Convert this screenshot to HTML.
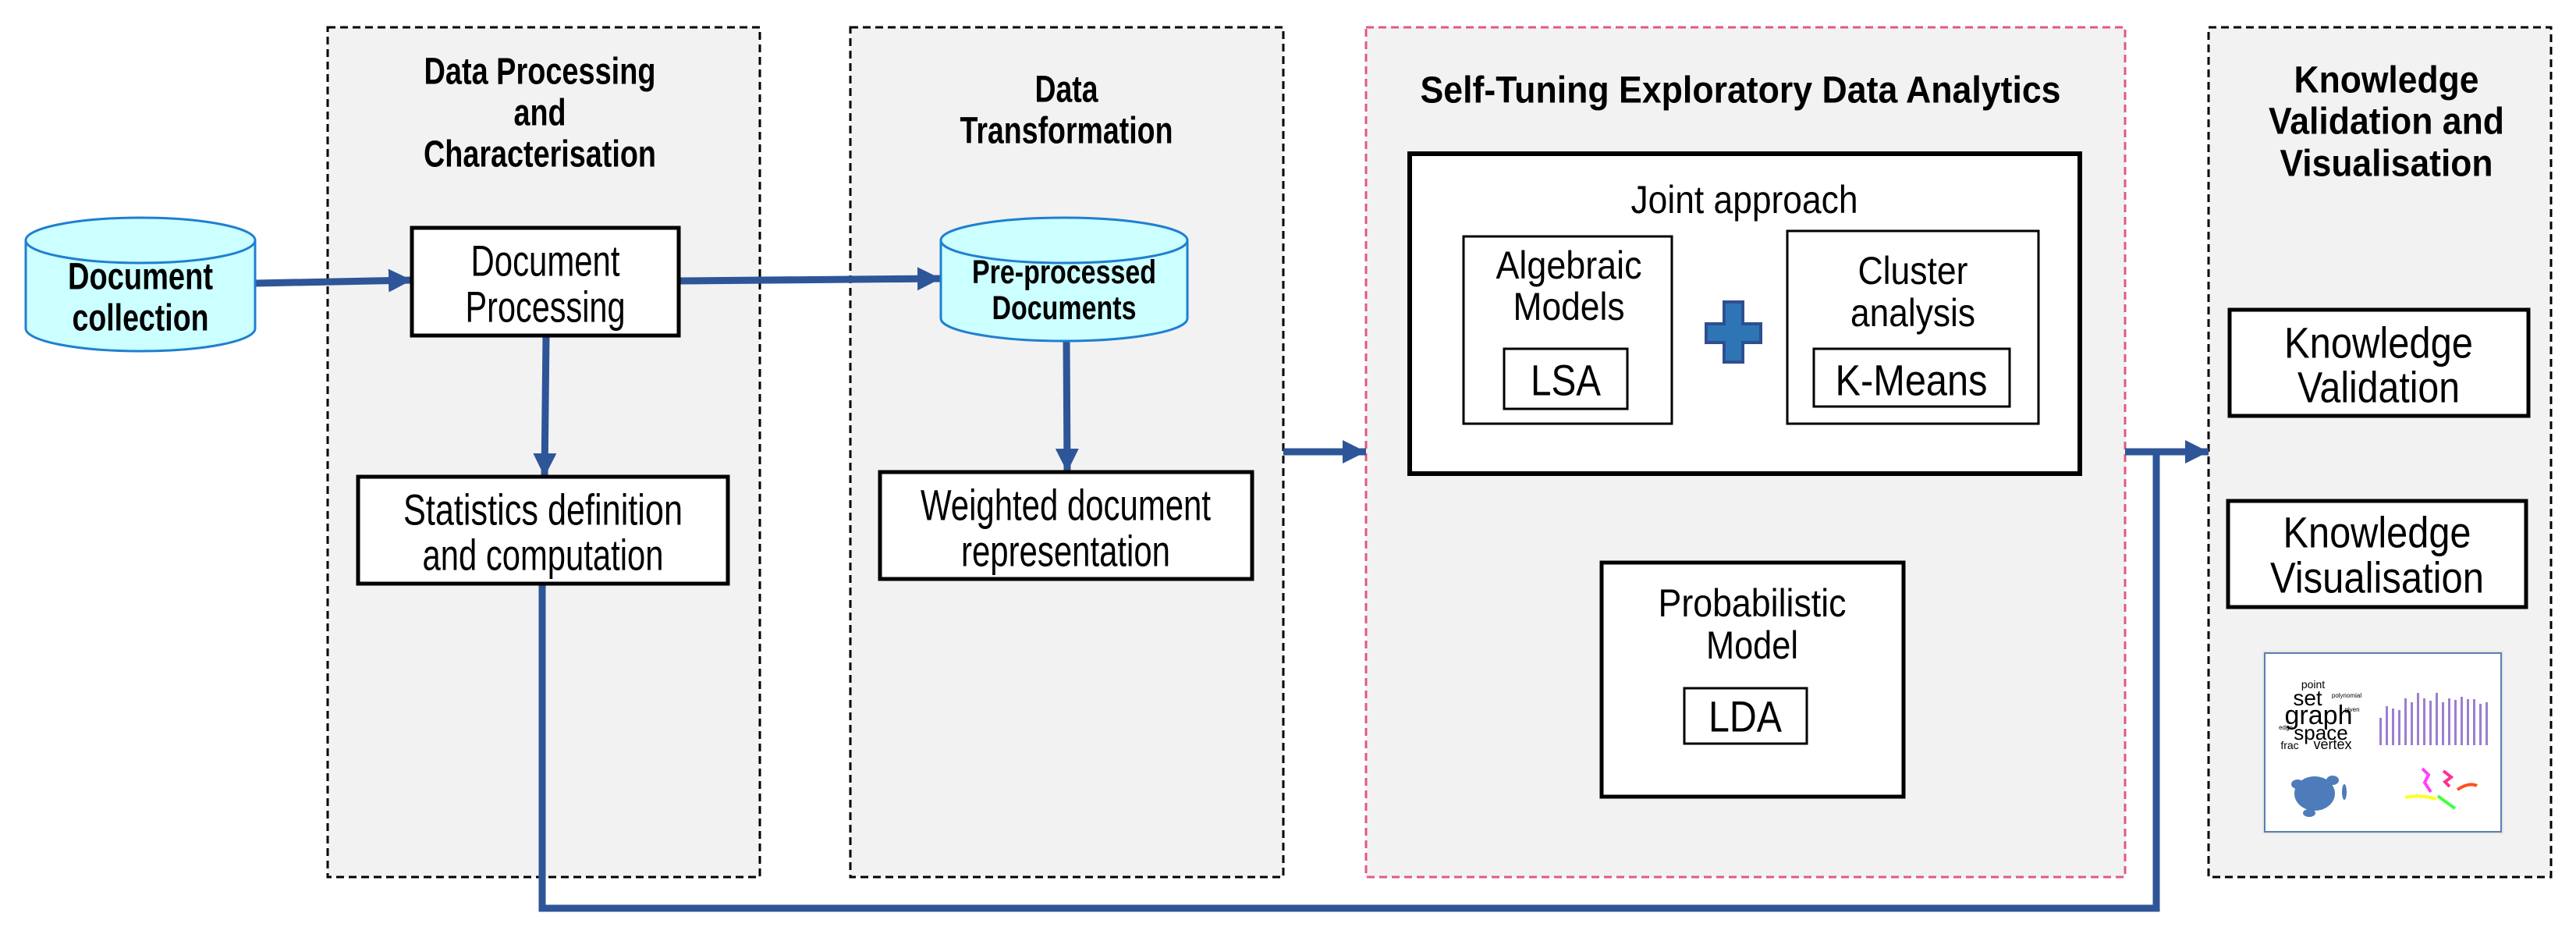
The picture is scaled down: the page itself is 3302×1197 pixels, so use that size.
<!DOCTYPE html>
<html><head><meta charset="utf-8"><style>
html,body{margin:0;padding:0;background:#fff;}
svg{display:block;}
text{font-family:"Liberation Sans Narrow","Liberation Sans",sans-serif;fill:#000;}
.b{font-weight:bold;}
</style></head><body>
<svg width="3302" height="1197" viewBox="0 0 3302 1197" xmlns="http://www.w3.org/2000/svg">
<defs>
<marker id="ah" markerUnits="userSpaceOnUse" markerWidth="32" markerHeight="30" refX="30" refY="15" orient="auto">
<path d="M0,0 L30,15 L0,30 z" fill="#2E5597"/>
</marker>
</defs>
<rect x="420" y="35" width="554" height="1089" fill="#f2f2f2" stroke="#000" stroke-width="3" stroke-dasharray="10,6"/>
<rect x="1090" y="35" width="555" height="1089" fill="#f2f2f2" stroke="#000" stroke-width="3" stroke-dasharray="10,6"/>
<rect x="1751" y="35" width="973" height="1089" fill="#f2f2f2" stroke="#e05a80" stroke-width="3" stroke-dasharray="10,6"/>
<rect x="2831" y="35" width="439" height="1089" fill="#f2f2f2" stroke="#000" stroke-width="3" stroke-dasharray="10,6"/>

<g class="b" font-size="48" text-anchor="middle" dominant-baseline="central">
<text x="692" y="92" textLength="297" lengthAdjust="spacingAndGlyphs" class="b">Data Processing</text>
<text x="692" y="145" textLength="67" lengthAdjust="spacingAndGlyphs" class="b">and</text>
<text x="692" y="198" textLength="298" lengthAdjust="spacingAndGlyphs" class="b">Characterisation</text>
<text x="1367" y="115" textLength="81" lengthAdjust="spacingAndGlyphs" class="b">Data</text>
<text x="1367" y="168" textLength="273" lengthAdjust="spacingAndGlyphs" class="b">Transformation</text>
<text x="2231" y="116" textLength="821" lengthAdjust="spacingAndGlyphs" class="b">Self-Tuning Exploratory Data Analytics</text>
<text x="3059" y="103" textLength="237" lengthAdjust="spacingAndGlyphs" class="b">Knowledge</text>
<text x="3059" y="156" textLength="302" lengthAdjust="spacingAndGlyphs" class="b">Validation and</text>
<text x="3059" y="210" textLength="273" lengthAdjust="spacingAndGlyphs" class="b">Visualisation</text>
</g>

<g stroke="#2E5597" stroke-width="9" fill="none">
<line x1="328" y1="363" x2="528" y2="359" marker-end="url(#ah)"/>
<line x1="870" y1="360" x2="1206" y2="357" marker-end="url(#ah)"/>
<line x1="700" y1="430" x2="698" y2="611" marker-end="url(#ah)"/>
<line x1="1367" y1="437" x2="1368" y2="605" marker-end="url(#ah)"/>
<line x1="1645" y1="579" x2="1751" y2="579" marker-end="url(#ah)"/>
<line x1="2724" y1="579" x2="2831" y2="579" marker-end="url(#ah)"/>
<polyline points="695,748 695,1164 2764,1164 2764,579"/>
</g>

<g stroke="#1f7fd0" stroke-width="3" fill="#ccffff">
<path d="M33,308 L33,421 A147,29 0 0 0 327,421 L327,308"/>
<ellipse cx="180" cy="308" rx="147" ry="29"/>
<path d="M1206,308 L1206,408 A158,29 0 0 0 1522,408 L1522,308"/>
<ellipse cx="1364" cy="308" rx="158" ry="29"/>
</g>
<g font-size="48" text-anchor="middle" dominant-baseline="central">
<text x="180" y="355" textLength="186" lengthAdjust="spacingAndGlyphs" class="b">Document</text>
<text x="180" y="408" textLength="175" lengthAdjust="spacingAndGlyphs" class="b">collection</text>
<text x="1364" y="349" font-size="43" textLength="236" lengthAdjust="spacingAndGlyphs" class="b">Pre-processed</text>
<text x="1364" y="395" font-size="43" textLength="185" lengthAdjust="spacingAndGlyphs" class="b">Documents</text>
</g>

<g fill="#fff" stroke="#000">
<rect x="528" y="292" width="342" height="138" stroke-width="5"/>
<rect x="459" y="611" width="474" height="137" stroke-width="5"/>
<rect x="1128" y="605" width="477" height="137" stroke-width="5"/>
<rect x="1807" y="197" width="859" height="410" stroke-width="6"/>
<rect x="1876" y="303" width="267" height="240" stroke-width="3"/>
<rect x="1928" y="447" width="158" height="77" stroke-width="3"/>
<rect x="2291" y="296" width="322" height="247" stroke-width="3"/>
<rect x="2325" y="447" width="251" height="74" stroke-width="3"/>
<rect x="2053" y="721" width="387" height="300" stroke-width="5"/>
<rect x="2159" y="882" width="157" height="71" stroke-width="3"/>
<rect x="2858" y="397" width="383" height="136" stroke-width="5"/>
<rect x="2856" y="642" width="382" height="136" stroke-width="5"/>
</g>

<path d="M2210,387 h24 v28 h23 v24 h-23 v25 h-24 v-25 h-23 v-24 h23 z" fill="#2E75B6" stroke="#2F4F8F" stroke-width="4"/>

<g font-size="56" text-anchor="middle" dominant-baseline="central">
<text x="699" y="334" textLength="191" lengthAdjust="spacingAndGlyphs">Document</text>
<text x="699" y="393" textLength="205" lengthAdjust="spacingAndGlyphs">Processing</text>
<text x="696" y="653" textLength="358" lengthAdjust="spacingAndGlyphs">Statistics  definition</text>
<text x="696" y="711" textLength="309" lengthAdjust="spacingAndGlyphs">and computation</text>
<text x="1366" y="647" textLength="372" lengthAdjust="spacingAndGlyphs">Weighted document</text>
<text x="1366" y="706" textLength="268" lengthAdjust="spacingAndGlyphs">representation</text>
<text x="2236" y="256" font-size="50" textLength="291" lengthAdjust="spacingAndGlyphs">Joint approach</text>
<text x="2011" y="340" font-size="50" textLength="187" lengthAdjust="spacingAndGlyphs">Algebraic</text>
<text x="2011" y="393" font-size="50" textLength="143" lengthAdjust="spacingAndGlyphs">Models</text>
<text x="2007" y="487" textLength="90" lengthAdjust="spacingAndGlyphs">LSA</text>
<text x="2452" y="347" font-size="50" textLength="141" lengthAdjust="spacingAndGlyphs">Cluster</text>
<text x="2452" y="401" font-size="50" textLength="160" lengthAdjust="spacingAndGlyphs">analysis</text>
<text x="2450" y="487" textLength="195" lengthAdjust="spacingAndGlyphs">K-Means</text>
<text x="2246" y="773" font-size="50" textLength="241" lengthAdjust="spacingAndGlyphs">Probabilistic</text>
<text x="2246" y="827" font-size="50" textLength="118" lengthAdjust="spacingAndGlyphs">Model</text>
<text x="2237" y="918" textLength="94" lengthAdjust="spacingAndGlyphs">LDA</text>
<text x="3049" y="439" textLength="242" lengthAdjust="spacingAndGlyphs">Knowledge</text>
<text x="3049" y="496" textLength="208" lengthAdjust="spacingAndGlyphs">Validation</text>
<text x="3047" y="682" textLength="241" lengthAdjust="spacingAndGlyphs">Knowledge</text>
<text x="3047" y="740" textLength="274" lengthAdjust="spacingAndGlyphs">Visualisation</text>
</g>

<rect x="2900" y="834" width="309" height="235" fill="#e6e6e6"/>
<rect x="2903" y="837" width="303" height="229" fill="#fff" stroke="#5a7fb0" stroke-width="2"/>
<g font-family="Liberation Mono, monospace" text-anchor="middle">
<text x="2965" y="882" font-size="14" fill="#c06090">point</text>
<text x="2958" y="904" font-size="28" fill="#a0507a">set</text>
<text x="2972" y="928" font-size="34" fill="#8a4a70">graph</text>
<text x="2975" y="948" font-size="26" fill="#5a3550">space</text>
<text x="2990" y="960" font-size="18" fill="#6a3555">vertex</text>
<text x="2935" y="960" font-size="14" fill="#a06080">frac</text>
<text x="3008" y="894" font-size="8" fill="#805070">polynomial</text>
<text x="2930" y="935" font-size="8" fill="#805070">edge</text>
<text x="3015" y="912" font-size="8" fill="#805070">given</text>
</g>
<g fill="#9b7fd0">
<rect x="3050" y="920" width="3" height="35"/><rect x="3058" y="905" width="3" height="50"/>
<rect x="3066" y="908" width="3" height="47"/><rect x="3074" y="910" width="3" height="45"/>
<rect x="3082" y="895" width="3" height="60"/><rect x="3090" y="900" width="3" height="55"/>
<rect x="3098" y="888" width="3" height="67"/><rect x="3106" y="895" width="3" height="60"/>
<rect x="3114" y="898" width="3" height="57"/><rect x="3122" y="888" width="3" height="67"/>
<rect x="3130" y="900" width="3" height="55"/><rect x="3138" y="895" width="3" height="60"/>
<rect x="3146" y="897" width="3" height="58"/><rect x="3154" y="893" width="3" height="62"/>
<rect x="3162" y="896" width="3" height="59"/><rect x="3170" y="896" width="3" height="59"/>
<rect x="3178" y="902" width="3" height="53"/><rect x="3186" y="900" width="3" height="55"/>
</g>
<g fill="#3b6db3" opacity="0.9">
<ellipse cx="2967" cy="1017" rx="26" ry="22"/>
<ellipse cx="2945" cy="1005" rx="8" ry="6"/><ellipse cx="2990" cy="1000" rx="8" ry="6"/>
<ellipse cx="2960" cy="1042" rx="8" ry="5"/><ellipse cx="3005" cy="1015" rx="3" ry="10"/>
</g>
<g fill="none" stroke-width="4">
<path d="M3105,985 l8,8 -5,10 8,12" stroke="#ff40ff"/>
<path d="M3132,988 l10,8 -8,6 6,6" stroke="#ff3090"/>
<path d="M3150,1012 q15,-10 25,-5" stroke="#ff5020"/>
<path d="M3083,1022 q20,-4 40,2" stroke="#ffff20"/>
<path d="M3125,1020 q10,8 22,16" stroke="#40ff40"/>
</g>
</svg>
</body></html>
